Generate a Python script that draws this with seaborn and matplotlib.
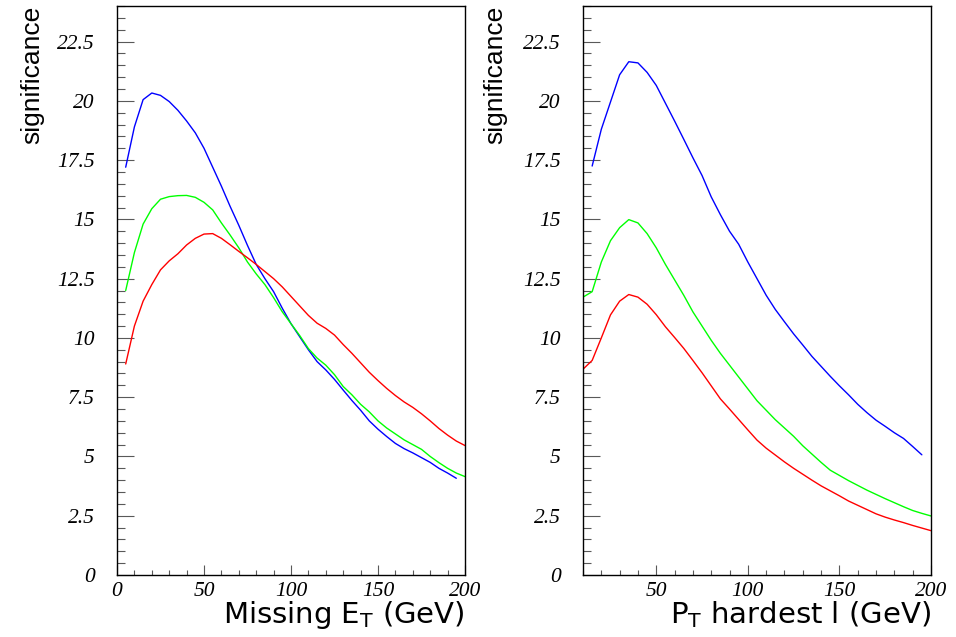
import matplotlib
matplotlib.use("Agg")
import matplotlib.pyplot as plt
from matplotlib.ticker import MultipleLocator, FuncFormatter
import seaborn as sns

# left pad: cut on missing E_T (GeV)
met_cut = [5, 10, 15, 20, 25, 30, 35, 40, 45, 50, 55, 60, 65, 70, 75, 80, 85, 90, 95, 100,
           105, 110, 115, 120, 125, 130, 135, 140, 145, 150, 155, 160, 165, 170, 175, 180,
           185, 190, 195, 200]
met_blue = [17.2, 18.9, 20.05, 20.33, 20.23, 19.97, 19.6, 19.15, 18.65, 18.0, 17.2, 16.4,
            15.55, 14.75, 13.9, 13.1, 12.5, 11.95, 11.25, 10.6, 10.05, 9.5, 9.0, 8.65, 8.25,
            7.8, 7.36, 6.95, 6.5, 6.15, 5.84, 5.55, 5.33, 5.15, 4.95, 4.75, 4.5, 4.3, 4.08]
met_green = [12.0, 13.6, 14.8, 15.45, 15.85, 15.96, 16.0, 16.01, 15.93, 15.72, 15.4, 14.85,
             14.34, 13.8, 13.2, 12.7, 12.25, 11.7, 11.1, 10.6, 10.1, 9.55, 9.15, 8.85, 8.45,
             7.95, 7.6, 7.2, 6.88, 6.5, 6.2, 5.95, 5.7, 5.5, 5.3, 5.0, 4.74, 4.5, 4.3, 4.15]
met_red = [8.9, 10.5, 11.55, 12.25, 12.87, 13.25, 13.55, 13.92, 14.2, 14.38, 14.4, 14.2,
           13.93, 13.65, 13.38, 13.1, 12.8, 12.5, 12.15, 11.75, 11.35, 10.95, 10.62, 10.4,
           10.12, 9.72, 9.35, 8.95, 8.55, 8.2, 7.87, 7.57, 7.3, 7.07, 6.8, 6.5, 6.18, 5.9,
           5.65, 5.46]

# right pad: cut on pT of the hardest lepton (GeV)
pt_cut = [10, 15, 20, 25, 30, 35, 40, 45, 50, 55, 60, 65, 70, 75, 80, 85, 90, 95, 100, 105,
          110, 115, 120, 125, 130, 135, 140, 145, 150, 155, 160, 165, 170, 175, 180, 185,
          190, 195, 200]
pt_blue = [17.25, 18.8, 19.95, 21.1, 21.65, 21.6, 21.2, 20.65, 19.9, 19.15, 18.38, 17.6,
           16.85, 15.95, 15.2, 14.5, 13.95, 13.2, 12.5, 11.8, 11.2, 10.68, 10.17, 9.7, 9.22,
           8.8, 8.38, 7.98, 7.6, 7.2, 6.85, 6.53, 6.27, 6.0, 5.76, 5.42, 5.07]
pt_green = [11.72, 11.95, 13.2, 14.1, 14.65, 14.99, 14.85, 14.4, 13.8, 13.1, 12.45, 11.8,
            11.1, 10.5, 9.9, 9.35, 8.85, 8.35, 7.85, 7.35, 6.95, 6.55, 6.2, 5.85, 5.45, 5.1,
            4.75, 4.42, 4.2, 3.98, 3.78, 3.58, 3.4, 3.22, 3.05, 2.88, 2.72, 2.6, 2.49]
pt_red = [8.68, 9.05, 10.0, 10.97, 11.55, 11.83, 11.72, 11.42, 10.98, 10.47, 10.02, 9.56,
          9.05, 8.53, 7.98, 7.43, 7.0, 6.56, 6.12, 5.69, 5.35, 5.06, 4.77, 4.5, 4.25, 4.0,
          3.76, 3.55, 3.34, 3.12, 2.94, 2.76, 2.58, 2.44, 2.32, 2.21, 2.09, 1.98, 1.87]

sns.set_style("white")
plt.rcParams["font.family"] = ["Liberation Serif", "DejaVu Serif"]
plt.rcParams["text.color"] = "black"
plt.rcParams["xtick.labelcolor"] = "black"
plt.rcParams["ytick.labelcolor"] = "black"
plt.rcParams["axes.labelcolor"] = "black"
plt.rcParams["mathtext.fontset"] = "dejavusans"

fig = plt.figure(figsize=(9.56, 6.37), dpi=100)
ax_l = fig.add_axes([117 / 956, 62 / 637, 348 / 956, 569 / 637])
ax_r = fig.add_axes([583 / 956, 62 / 637, 348 / 956, 569 / 637])

sns.lineplot(x=met_cut[:len(met_blue)], y=met_blue, color="#0000ff", lw=1.0, ax=ax_l)
sns.lineplot(x=met_cut, y=met_green, color="#00ff00", lw=1.0, ax=ax_l)
sns.lineplot(x=met_cut, y=met_red, color="#ff0000", lw=1.0, ax=ax_l)

sns.lineplot(x=pt_cut[1:1 + len(pt_blue)], y=pt_blue, color="#0000ff", lw=1.0, ax=ax_r)
sns.lineplot(x=pt_cut, y=pt_green, color="#00ff00", lw=1.0, ax=ax_r)
sns.lineplot(x=pt_cut, y=pt_red, color="#ff0000", lw=1.0, ax=ax_r)


def style_pad(ax, xmin, xlabel, ylab_x):
    ax.set_xlim(xmin, 200)
    ax.set_ylim(0, 24)
    ax.xaxis.set_major_locator(MultipleLocator(50))
    ax.xaxis.set_minor_locator(MultipleLocator(10))
    ax.yaxis.set_major_locator(MultipleLocator(2.5))
    ax.yaxis.set_minor_locator(MultipleLocator(0.5))
    fmt = FuncFormatter(lambda v, p: f"{v:g}")
    ax.xaxis.set_major_formatter(fmt)
    ax.yaxis.set_major_formatter(fmt)
    ax.tick_params(axis="y", which="major", direction="in", length=12, width=0.8,
                   color="0.35", pad=16, left=True)
    ax.tick_params(axis="y", which="minor", direction="in", length=6, width=0.8,
                   color="0.35", left=True)
    ax.tick_params(axis="x", which="major", direction="in", length=7, width=0.8,
                   color="0.35", pad=5, bottom=True)
    ax.tick_params(axis="x", which="minor", direction="in", length=3.5, width=0.8,
                   color="0.35", bottom=True)
    for lab in ax.get_xticklabels() + ax.get_yticklabels():
        lab.set_fontfamily("Liberation Serif")
        lab.set_fontstyle("italic")
        lab.set_fontsize(15.5)
    for sp in ax.spines.values():
        sp.set_color("black")
        sp.set_linewidth(1.0)
    ax.set_xlabel(xlabel, loc="right", fontfamily="DejaVu Sans", fontsize=21)
    ax.xaxis.set_label_coords(1.0, -0.043)
    ax.set_ylabel("significance", loc="top", fontfamily="Liberation Sans",
                  fontsize=19, va="center")
    ax.yaxis.set_label_coords(ylab_x, 1.0)


style_pad(ax_l, 0, r"Missing E$_\mathrm{T}$ (GeV)", -0.244)
style_pad(ax_r, 10, r"P$_\mathrm{T}$ hardest l (GeV)", -0.253)

fig.savefig("out.png", dpi=100, facecolor="white")
